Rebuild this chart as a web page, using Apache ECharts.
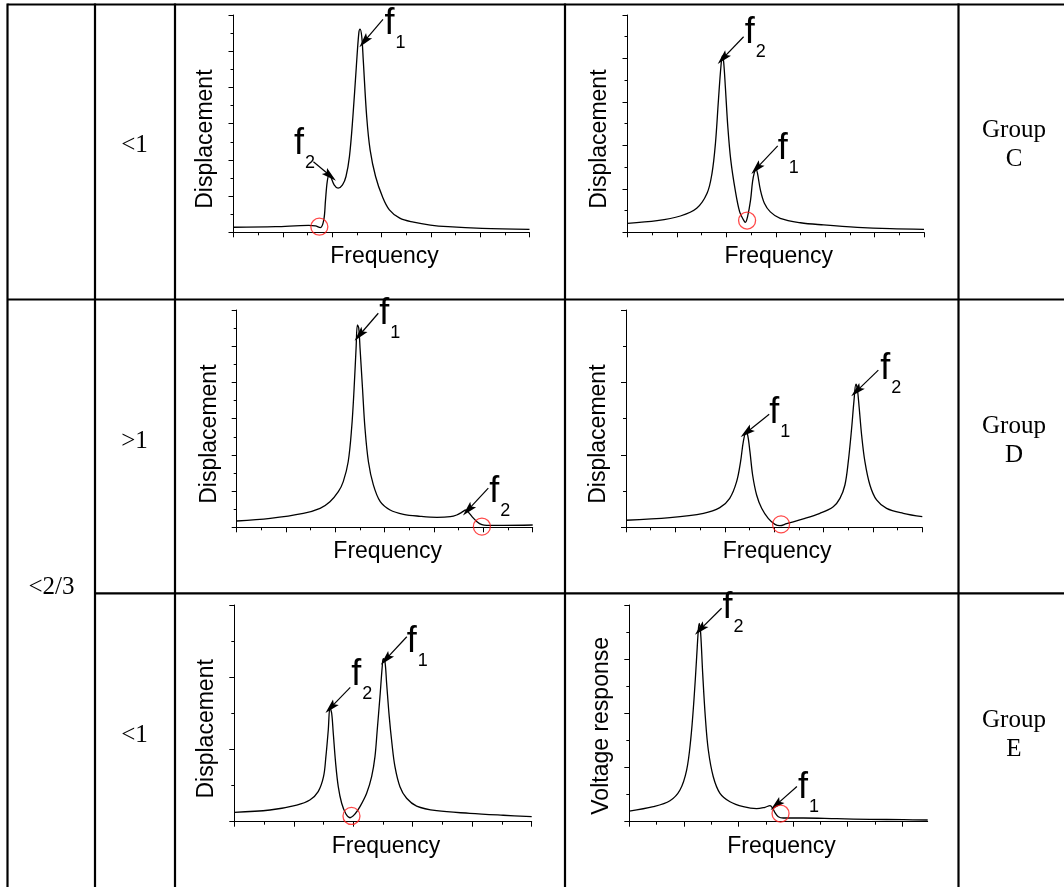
<!DOCTYPE html>
<html>
<head>
<meta charset="utf-8">
<script src="https://cdn.jsdelivr.net/npm/echarts@6/dist/echarts.min.js"></script>
<style>
html, body { margin: 0; padding: 0; background: #fff; }
#chart { width: 1064px; height: 887px; }
</style>
</head>
<body>
<div id="chart"></div>
<script>
// ---- Frequency response curves, [frequency, amplitude] in axis units ----
const curveC1 = [[0,0.14],[0.85,0.155],[1.52,0.19],[1.66,0.175],[1.76,0.127],[1.83,0.34],[1.865,0.89],[1.9,1.4],[1.94,1.6],[2.04,1.31],[2.12,1.22],[2.21,1.31],[2.28,1.54],[2.35,2.09],[2.42,3.19],[2.49,4.58],[2.54,5.5],[2.565,5.61],[2.6,5.4],[2.63,4.76],[2.7,3.19],[2.77,2.27],[2.88,1.54],[3.02,0.98],[3.16,0.62],[3.37,0.39],[3.65,0.28],[3.99,0.2],[4.35,0.155],[5.04,0.11],[6,0.083]];
const curveC2 = [[0,0.207],[0.6,0.267],[1.07,0.375],[1.4,0.552],[1.61,0.897],[1.71,1.357],[1.78,2.05],[1.84,3.04],[1.89,3.81],[1.92,4.06],[1.945,3.93],[1.98,3.35],[2.03,2.43],[2.09,1.66],[2.18,0.97],[2.27,0.47],[2.35,0.28],[2.385,0.23],[2.43,0.36],[2.49,0.74],[2.53,1.16],[2.57,1.39],[2.6,1.46],[2.63,1.36],[2.69,0.97],[2.77,0.67],[2.89,0.47],[3.09,0.32],[3.5,0.22],[3.97,0.17],[4.65,0.115],[5.32,0.083],[6,0.069]];
const curveD1 = [[0,0.174],[0.68,0.248],[1.35,0.386],[1.69,0.525],[1.89,0.707],[2.06,0.983],[2.16,1.26],[2.26,1.81],[2.33,2.74],[2.38,3.84],[2.42,4.95],[2.447,5.59],[2.474,5.5],[2.5,4.95],[2.55,3.84],[2.6,2.74],[2.67,1.81],[2.77,1.17],[2.91,0.707],[3.11,0.478],[3.38,0.359],[3.72,0.304],[4.06,0.276],[4.33,0.293],[4.46,0.34],[4.56,0.414],[4.65,0.478],[4.7,0.414],[4.77,0.293],[4.87,0.155],[4.97,0.072],[5.07,0.055],[5.41,0.055],[6,0.064]];
const curveD2 = [[0,0.097],[0.89,0.133],[1.57,0.193],[1.9,0.271],[2.1,0.4],[2.24,0.63],[2.32,0.906],[2.375,1.18],[2.43,1.307],[2.463,1.275],[2.51,1.044],[2.564,0.722],[2.645,0.446],[2.747,0.262],[2.88,0.124],[3.016,0.041],[3.117,0.022],[3.252,0.05],[3.589,0.115],[3.927,0.193],[4.197,0.285],[4.332,0.4],[4.433,0.584],[4.501,0.906],[4.569,1.367],[4.615,1.735],[4.656,1.975],[4.683,1.92],[4.723,1.644],[4.771,1.275],[4.838,0.906],[4.939,0.584],[5.074,0.377],[5.277,0.262],[5.614,0.193],[6,0.146]];
const curveE1 = [[0,0.13],[0.6,0.162],[1.05,0.231],[1.27,0.3],[1.41,0.416],[1.5,0.623],[1.54,0.9],[1.58,1.27],[1.608,1.579],[1.637,1.501],[1.664,1.224],[1.704,0.809],[1.748,0.485],[1.805,0.255],[1.877,0.107],[1.945,0.055],[2.029,0.107],[2.113,0.208],[2.225,0.393],[2.309,0.623],[2.365,0.9],[2.403,1.27],[2.449,1.731],[2.487,2.147],[2.504,2.258],[2.533,2.216],[2.561,1.917],[2.605,1.454],[2.65,1.086],[2.701,0.762],[2.785,0.485],[2.897,0.324],[3.065,0.217],[3.402,0.152],[3.961,0.116],[4.521,0.089],[5,0.069]];
const curveE2 = [[0,0.197],[0.44,0.277],[0.745,0.387],[0.928,0.585],[1.05,0.954],[1.124,1.507],[1.184,2.245],[1.234,3.044],[1.264,3.537],[1.282,3.66],[1.307,3.476],[1.344,2.738],[1.392,1.937],[1.447,1.323],[1.538,0.83],[1.661,0.524],[1.844,0.369],[2.088,0.277],[2.332,0.24],[2.485,0.266],[2.577,0.295],[2.626,0.247],[2.668,0.166],[2.729,0.092],[2.821,0.068],[3.187,0.068],[3.797,0.055],[4.408,0.044],[5.018,0.037],[5.465,0.031]];

// Anti-resonance points circled in red
const dipC1 = [1.74, 0.155];
const dipC2 = [2.42, 0.27];
const dipD1 = [4.97, 0.02];
const dipD2 = [3.14, 0.04];
const dipE1 = [1.97, 0.08];
const dipE2 = [2.77, 0.15];

// Peak annotations: [subscript, arrow tail x, tail y, arrow tip x, tip y]
const notesC1 = [['1', 3.03, 5.88, 2.65, 5.27], ['2', 1.62, 1.95, 1.96, 1.56]];
const notesC2 = [['2', 2.35, 4.50, 1.93, 4.00], ['1', 3.04, 1.99, 2.61, 1.47]];
const notesD1 = [['1', 2.87, 5.91, 2.49, 5.31], ['2', 5.10, 1.08, 4.69, 0.48]];
const notesD2 = [['1', 2.90, 1.56, 2.44, 1.31], ['2', 5.11, 2.17, 4.67, 1.88]];
const notesE1 = [['2', 1.95, 1.86, 1.62, 1.58], ['1', 2.90, 2.56, 2.55, 2.25]];
const notesE2 = [['2', 1.69, 3.94, 1.30, 3.55], ['1', 3.07, 0.65, 2.69, 0.31]];

// Axis extents and names
const xMaxes = [6, 6, 6, 6, 5, 5.465];
const yMaxes = [6, 5, 6, 3, 3, 4];
const xNames = ['Frequency', 'Frequency', 'Frequency', 'Frequency', 'Frequency', 'Frequency'];
const yNames = ['Displacement', 'Displacement', 'Displacement', 'Displacement', 'Displacement', 'Voltage response'];
// Panel with an axis end that falls between ticks
const majorTicksE2 = [0, 1, 2, 3, 4, 5];
const minorTicksE2 = [0.5, 1.5, 2.5, 3.5, 4.5];

// Table text
const ratioOuter = '<2/3';
const ratioRows = ['<1', '>1', '<1'];
const groupRows = ['Group\nC', 'Group\nD', 'Group\nE'];

// ---- Layout and styling ----
const SANS = '"Liberation Sans", Arial, Helvetica, sans-serif';
const SERIF = '"Liberation Serif", "Times New Roman", serif';

const curves = [curveC1, curveC2, curveD1, curveD2, curveE1, curveE2];
const dips = [dipC1, dipC2, dipD1, dipD2, dipE1, dipE2];
const notes = [notesC1, notesC2, notesD1, notesD2, notesE1, notesE2];

// plot rectangles [left, top, width, height]
const rects = [
  [233.5, 15, 296, 217.3],
  [627.5, 15, 296.5, 217.3],
  [236.7, 310, 296, 217.3],
  [626, 310, 296.3, 217.3],
  [234.3, 605, 297.4, 216.7],
  [629.3, 605, 298.4, 216.7]
];
// label block offset from the arrow tail, px
const labelOffsets = [
  [[1.5, -13], [-19.5, -36]],
  [[1, -22], [0, -15]],
  [[1, -17], [1, -14]],
  [[0, -19], [2, -19]],
  [[1, -30], [0, -13]],
  [[1, -18], [1, -16]]
];
const yNamePad = [31, 31, 31, 31, 31, 25];

const INK = '#000';
const tickStyle = { color: INK, width: 1 };
// slender filled arrowhead, tip at the top of the path box
const ARROW = 'path://M3,0L6.5,13L3,10.5L-0.5,13Z';

const grids = rects.map(r => ({
  left: r[0], top: r[1], width: r[2], height: r[3],
  containLabel: false, outerBoundsMode: 'none'
}));

const xAxes = rects.map((r, i) => {
  const custom = i === 5;
  return {
    type: 'value', gridIndex: i, min: 0, max: xMaxes[i], interval: 1,
    name: xNames[i], nameLocation: 'middle', nameGap: 13,
    nameTextStyle: { fontFamily: SANS, fontSize: 23, color: INK, padding: [0, 0, 0, 6] },
    axisLine: { show: true, onZero: false, lineStyle: { color: INK, width: 1 } },
    axisTick: custom
      ? { show: true, length: 5, lineStyle: tickStyle, customValues: majorTicksE2 }
      : { show: true, length: 5, lineStyle: tickStyle },
    minorTick: { show: !custom, splitNumber: 2, length: 3, lineStyle: tickStyle },
    axisLabel: { show: false },
    splitLine: { show: false },
    minorSplitLine: { show: false }
  };
});
// minor ticks of the last panel
xAxes.push({
  type: 'value', gridIndex: 5, position: 'bottom', min: 0, max: xMaxes[5], interval: 1,
  axisLine: { show: false },
  axisTick: { show: true, length: 3, lineStyle: tickStyle, customValues: minorTicksE2 },
  axisLabel: { show: false }, splitLine: { show: false }
});

const yAxes = rects.map((r, i) => ({
  type: 'value', gridIndex: i, min: 0, max: yMaxes[i], interval: 1,
  name: yNames[i], nameLocation: 'middle', nameGap: 16,
  nameTextStyle: { fontFamily: SANS, fontSize: 23, color: INK, padding: [0, yNamePad[i], 0, 0] },
  axisLine: { show: true, onZero: false, lineStyle: { color: INK, width: 1 } },
  axisTick: { show: true, length: 5, lineStyle: tickStyle },
  minorTick: { show: true, splitNumber: 2, length: 3, lineStyle: tickStyle },
  axisLabel: { show: false },
  splitLine: { show: false },
  minorSplitLine: { show: false }
}));

const series = [];
curves.forEach((curve, i) => {
  series.push({
    type: 'line', xAxisIndex: i, yAxisIndex: i,
    data: curve, showSymbol: false, smooth: 0.35,
    lineStyle: { color: INK, width: 1.3 }, clip: false, silent: true,
    markLine: {
      silent: true, animation: false,
      symbol: ['none', ARROW], symbolSize: 15, symbolKeepAspect: true,
      lineStyle: { color: INK, width: 1.2, type: 'solid' },
      itemStyle: { color: INK },
      label: { show: false },
      emphasis: { disabled: true },
      data: notes[i].map(n => [{ coord: [n[1], n[2]] }, { coord: [n[3], n[4]] }])
    },
    markPoint: {
      silent: true, animation: false,
      symbol: 'circle', symbolSize: 1,
      itemStyle: { color: 'rgba(0,0,0,0)' },
      data: notes[i].map((n, k) => ({
        name: n[0], coord: [n[1], n[2]],
        label: { offset: labelOffsets[i][k] }
      })),
      label: {
        show: true, position: 'inside', align: 'left', verticalAlign: 'top',
        color: INK, textBorderWidth: 0,
        formatter: p => '{f|f}{s|' + p.name + '}',
        rich: {
          f: { fontFamily: SANS, fontSize: 36, lineHeight: 36, color: INK, verticalAlign: 'top' },
          s: { fontFamily: SANS, fontSize: 18, lineHeight: 18, color: INK, verticalAlign: 'top', padding: [28, 0, 0, 1] }
        }
      }
    }
  });
  series.push({
    type: 'scatter', xAxisIndex: i, yAxisIndex: i, data: [dips[i]],
    symbol: 'circle', symbolSize: 17, silent: true, z: 5,
    itemStyle: { color: 'rgba(0,0,0,0)', borderColor: '#ff1a1a', borderWidth: 1.3 }
  });
});

// ---- Table frame and cell text ----
const line = (x1, y1, x2, y2) => ({
  type: 'line', silent: true,
  shape: { x1, y1, x2, y2 },
  style: { stroke: INK, lineWidth: 2.2 }
});
const text = (x, y, t) => ({
  type: 'text', silent: true, x, y,
  style: {
    text: t, fill: INK, fontFamily: SERIF, fontSize: 25, lineHeight: 29,
    align: 'center', verticalAlign: 'middle'
  }
});
const rowCenters = [145, 441, 735];
const graphics = [
  line(7.5, 4.5, 1064, 4.5),
  line(7.5, 299.5, 1064, 299.5),
  line(95, 593.3, 1064, 593.3),
  line(7.5, 3.5, 7.5, 887),
  line(95, 3.5, 95, 887),
  line(175, 3.5, 175, 887),
  line(565, 3.5, 565, 887),
  line(958.5, 3.5, 958.5, 887),
  text(51.5, 587.5, ratioOuter)
];
ratioRows.forEach((t, r) => graphics.push(text(134.5, rowCenters[r], t)));
groupRows.forEach((t, r) => graphics.push(text(1014, rowCenters[r], t)));

const chart = echarts.init(document.getElementById('chart'));
chart.setOption({
  animation: false,
  backgroundColor: '#fff',
  grid: grids,
  xAxis: xAxes,
  yAxis: yAxes,
  series: series,
  graphic: { elements: graphics }
});
</script>
</body>
</html>
